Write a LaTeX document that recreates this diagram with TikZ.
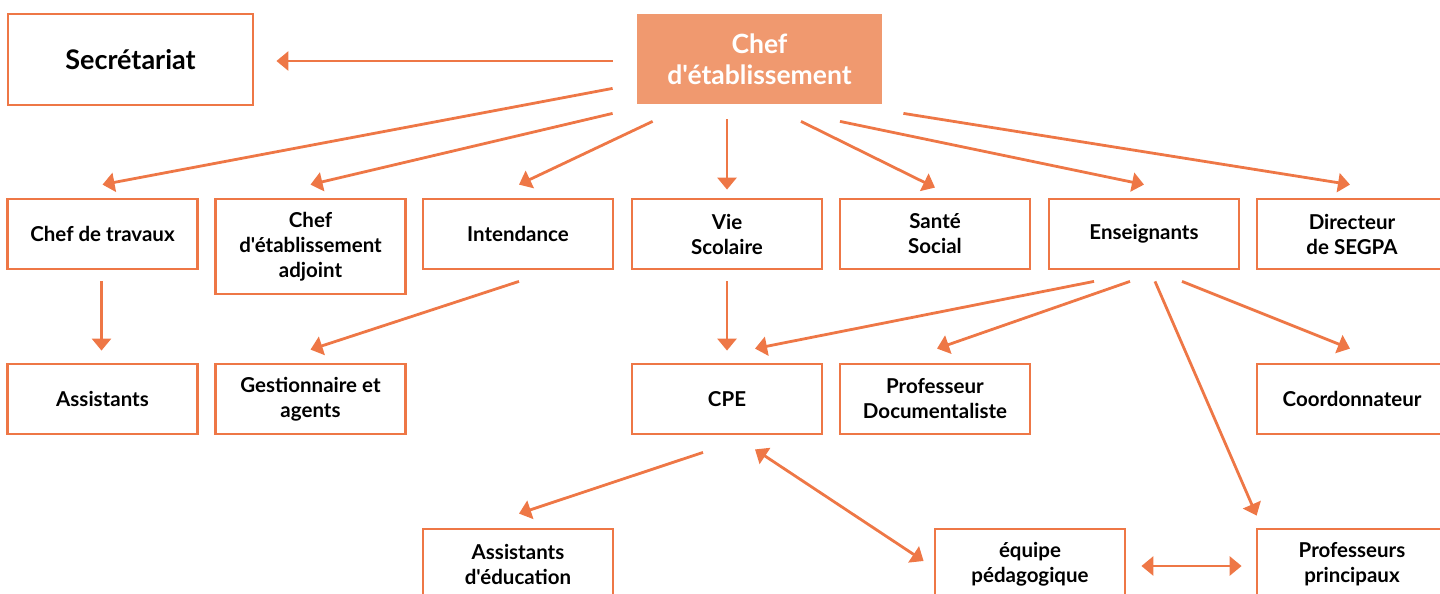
\documentclass[tikz,border=0pt]{standalone}
\usepackage{fontspec}
\setmainfont{Lato}[Ligatures=TeXOff]
\usetikzlibrary{arrows.meta,calc}
\definecolor{org}{RGB}{238,119,70}
\definecolor{orgfill}{RGB}{240,153,111}
\tikzset{
  box/.style={draw=org, line width=2.8pt, minimum width=190pt, minimum height=70pt,
    align=center, inner sep=0pt, font=\bfseries\fontsize{20.5}{25}\selectfont, text=black},
  arr/.style={draw=org, line width=2.8pt, -{Triangle[length=12pt,width=19pt]}},
  darr/.style={draw=org, line width=2.8pt, {Triangle[length=12pt,width=19pt]}-{Triangle[length=12pt,width=19pt]}}
}
\begin{document}
\begin{tikzpicture}[x=1pt,y=-1pt]
\useasboundingbox (0,0) rectangle (1440,594);
\clip (0,0) rectangle (1440,594);
% top
\node[box, minimum width=245pt, minimum height=91pt, font=\bfseries\fontsize{27}{32}\selectfont] (sec) at (130.5,59.5) {Secrétariat};
\node[box, draw=none, fill=orgfill, minimum width=245pt, minimum height=90pt, text=white, font=\bfseries\fontsize{26.5}{31}\selectfont] (chef) at (759.5,59) {Chef\\d'établissement};
% row 2
\node[box] (ct) at (102.5,234) {Chef de travaux};
\node[box, minimum height=95pt] (adj) at (310.5,246.5) {Chef\\d'établissement\\adjoint};
\node[box] (int) at (518,234) {Intendance};
\node[box] (vie) at (727,234) {Vie\\Scolaire};
\node[box] (san) at (935,234) {Santé\\Social};
\node[box] (ens) at (1144,234) {Enseignants};
\node[box] (dir) at (1352,234) {Directeur\\de SEGPA};
% row 3
\node[box] (as) at (102.5,399) {Assistants};
\node[box] (gest) at (310.5,399) {Gestionnaire et\\agents};
\node[box] (cpe) at (727,399) {CPE};
\node[box] (doc) at (935,399) {Professeur\\Documentaliste};
\node[box] (coord) at (1352,399) {Coordonnateur};
% row 4
\node[box] (ae) at (518,564) {Assistants\\d'éducation};
\node[box] (eq) at (1030,564) {équipe\\pédagogique};
\node[box] (pp) at (1352,564) {Professeurs\\principaux};
% arrows from chef
\draw[arr] ($(chef.west)+(-23,2)$) -- ($(sec.east)+(22,1.5)$);
\draw[arr] ($(chef.south west)+(-23,-17)$) -- ($(ct.north)+(0,-13)$);
\draw[arr] ($(chef.south west)+(-23,8)$) -- ($(adj.north)+(0,-13)$);
\draw[arr] ($(chef.south west)+(17,16)$) -- ($(int.north)+(1,-13)$);
\draw[arr] ($(chef.south)+(-32.5,14)$) -- ($(vie.north)+(0,-8)$);
\draw[arr] ($(chef.south)+(41.5,16)$) -- ($(san.north)+(0,-10)$);
\draw[arr] ($(chef.south)+(80.5,16)$) -- ($(ens.north)+(0,-13)$);
\draw[arr] ($(chef.south east)+(20,8)$) -- ($(dir.north)+(-2,-13)$);
% row 2 -> row 3
\draw[arr] ($(ct.south)+(-1,11)$) -- ($(as.north)+(-1,-12)$);
\draw[arr] ($(int.south)+(1,11)$) -- ($(gest.north)+(0,-13)$);
\draw[arr] ($(vie.south)+(0,11)$) -- ($(cpe.north)+(0,-12)$);
\draw[arr] ($(ens.south)+(-50,11)$) -- ($(cpe.north)+(28,-14)$);
\draw[arr] ($(ens.south)+(-14,11)$) -- ($(doc.north)+(2,-14)$);
\draw[arr] ($(ens.south)+(38,11)$) -- ($(coord.north)+(-2,-14)$);
\draw[arr] ($(ens.south)+(11,11)$) -- ($(pp.north west)+(1,-12)$);
% row 3 -> row 4
\draw[arr] ($(cpe.south)+(-24,17)$) -- ($(ae.north)+(1,-14)$);
\draw[darr] ($(cpe.south)+(28,14)$) -- ($(eq.west)+(-10,-3)$);
\draw[darr] ($(eq.east)+(15,2)$) -- ($(pp.west)+(-14,2)$);
\end{tikzpicture}
\end{document}
